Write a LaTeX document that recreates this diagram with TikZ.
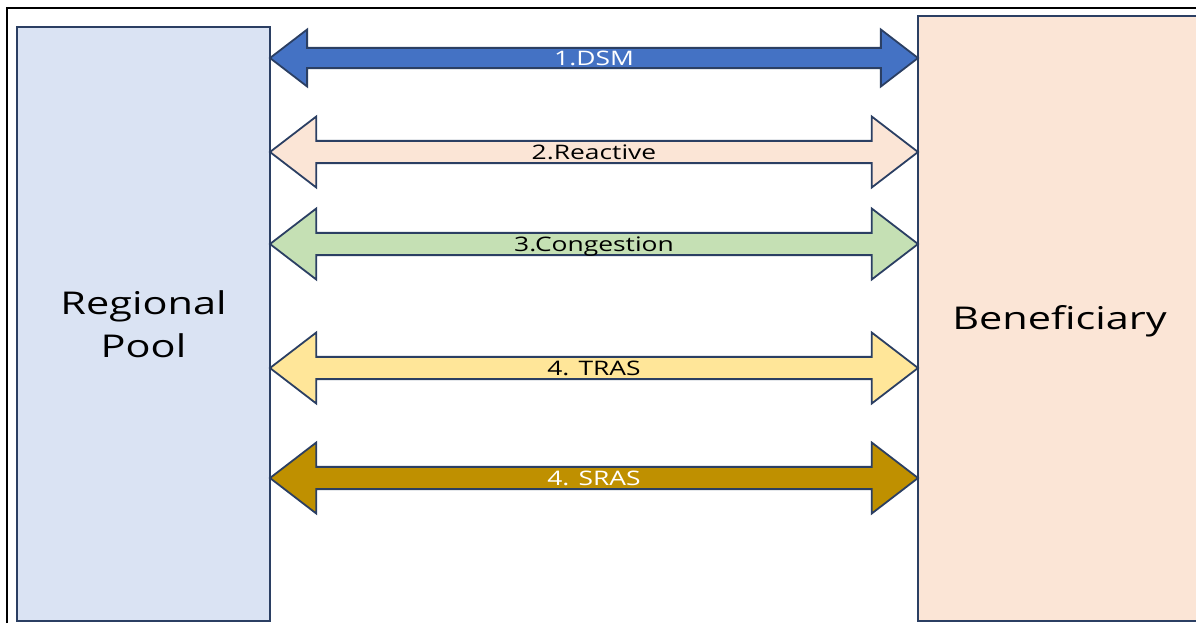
\documentclass[tikz,border=0pt]{standalone}
\usepackage{fontspec}
\newfontfamily\diagfont[FakeStretch=1.32]{Open Sans}
\usetikzlibrary{positioning, shapes.arrows}
\definecolor{edgenavy}{HTML}{2B3F63}
\definecolor{poolblue}{HTML}{DAE3F3}
\definecolor{benefpeach}{HTML}{FBE5D6}
\definecolor{dsmblue}{HTML}{4472C4}
\definecolor{congreen}{HTML}{C5E0B4}
\definecolor{trasyellow}{HTML}{FFE699}
\definecolor{srasgold}{HTML}{BF9000}

\begin{document}
\begin{tikzpicture}[x=0.5pt, y=-0.5pt,
  party/.style={draw=edgenavy, line width=0.9pt, inner sep=0pt, align=center, font=\diagfont\fontsize{15.7}{21.5}\selectfont},
  flow/.style={double arrow, draw=edgenavy, line width=0.9pt, inner sep=0pt, double arrow tip angle=75, minimum height=324pt, minimum width=35.5pt, double arrow head extend=8.75pt, text height=7.1pt, text depth=0pt, font=\diagfont\fontsize{10}{12}\selectfont}]
  \useasboundingbox (0,0) rectangle (1196,623);
  % frame, cut at the right and bottom
  \draw[line width=1.2pt] (7,623) -- (7,8) -- (1196,8);

  \node[party, fill=poolblue, minimum width=126.5pt, minimum height=297pt] (pool) at (143.5,324) {Regional\\Pool};
  \node[party, fill=benefpeach, minimum width=141.5pt, minimum height=302.5pt, text height=11.2pt, text depth=0pt] (benef) at (1059.5,318.5) {Beneficiary};

  \node[flow, fill=dsmblue, text=white, minimum width=28.5pt, double arrow head extend=7.25pt] (dsm) at (594,58) {1.DSM};
  \node[flow, fill=benefpeach] (reactive) at (594,152) {2.Reactive};
  \node[flow, fill=congreen] (congestion) at (594,244) {3.Congestion};
  \node[flow, fill=trasyellow] (tras) at (594,368) {4. TRAS};
  \node[flow, fill=srasgold, text=white] (sras) at (594,478) {4. SRAS};
\end{tikzpicture}
\end{document}
